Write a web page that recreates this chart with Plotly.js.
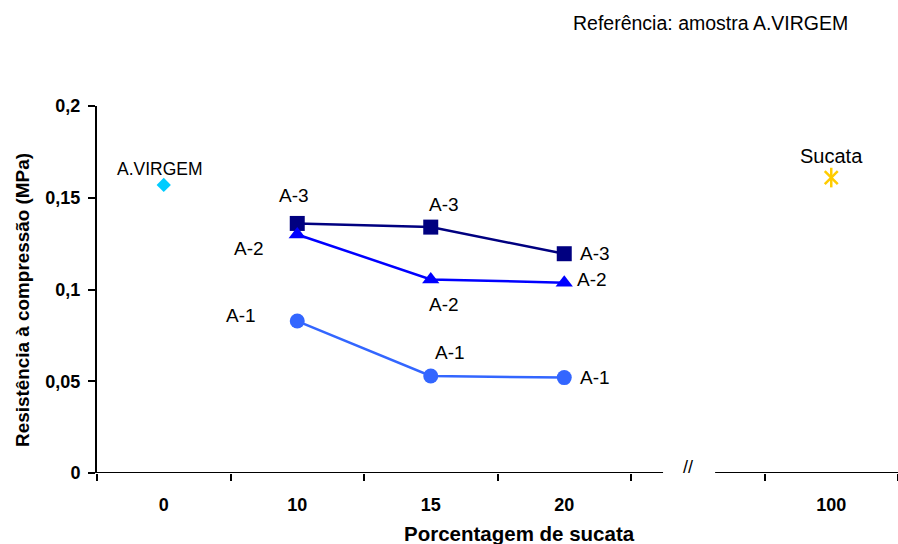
<!DOCTYPE html>
<html><head><meta charset="utf-8">
<script src="https://cdn.plot.ly/plotly-3.0.1.min.js"></script>
<style>html,body{margin:0;padding:0;background:#fff}</style>
</head><body><div id="chart" style="width:898px;height:544px"></div>
<script>
// Category labels and their slot index on the broken axis (slot 4 = break)
const xLabels = ['0', '10', '15', '20', '100'];
const xSlots = [0, 1, 2, 3, 5];

// Series (slot index -> value)
const virgemX = [0];
const virgemY = [0.157];
const a3X = [1, 2, 3];
const a3Y = [0.136, 0.134, 0.1195];
const a2X = [1, 2, 3];
const a2Y = [0.130, 0.1055, 0.1037];
const a1X = [1, 2, 3];
const a1Y = [0.0828, 0.0529, 0.0520];
const sucataX = [5];
const sucataY = [0.161];

const FONT = 'Liberation Sans, Arial, sans-serif';
const PL = 97, PR = 898, PT = 106, PB = 473;
const px = v => (v - PL) / (PR - PL);
const py = v => (PB - v) / (PB - PT);

const traces = [
  {x: virgemX, y: virgemY, mode: 'markers', marker: {symbol: 'diamond', size: 11, color: '#00CCFF'}, cliponaxis: false},
  {x: a3X, y: a3Y, mode: 'lines+markers', line: {color: '#000080', width: 2.5}, marker: {symbol: 'square', size: 15, color: '#000080'}, cliponaxis: false},
  {x: a2X, y: a2Y, mode: 'lines+markers', line: {color: '#0000FF', width: 2.5}, marker: {symbol: 'triangle-up', size: 15, color: '#0000FF'}, cliponaxis: false},
  {x: a1X, y: a1Y, mode: 'lines+markers', line: {color: '#3366FF', width: 2.5}, marker: {symbol: 'circle', size: 15, color: '#3366FF'}, cliponaxis: false},
  {x: sucataX, y: sucataY, mode: 'markers', marker: {symbol: 'x-thin-open', size: 13, color: '#FFCC00', line: {color: '#FFCC00', width: 2.5}}, cliponaxis: false},
  {x: sucataX, y: sucataY, mode: 'markers', marker: {symbol: 'line-ns-open', size: 14, color: '#FFCC00', line: {color: '#FFCC00', width: 2.5}}, cliponaxis: false}
];

function lab(x, y, text, dx, dy, size) {
  return {x: x, y: y, xref: 'x', yref: 'y', text: text, showarrow: false,
    xanchor: 'center', yanchor: 'middle',
    xshift: dx, yshift: dy, font: {family: FONT, size: size || 19, color: '#000'}};
}

const annotations = [
  lab(virgemX[0], virgemY[0], 'A.VIRGEM', -4, 16, 17.5),
  lab(a3X[0], a3Y[0], 'A-3', -3, 28),
  lab(a3X[1], a3Y[1], 'A-3', 13, 23),
  lab(a3X[2], a3Y[2], 'A-3', 31, 0),
  lab(a2X[0], a2Y[0], 'A-2', -48, -14),
  lab(a2X[1], a2Y[1], 'A-2', 13, -25),
  lab(a2X[2], a2Y[2], 'A-2', 28, 3),
  lab(a1X[0], a1Y[0], 'A-1', -56, 6),
  lab(a1X[1], a1Y[1], 'A-1', 19, 23),
  lab(a1X[2], a1Y[2], 'A-1', 31, 0),
  lab(sucataX[0], sucataY[0], 'Sucata', 0, 22, 20),
  {x: 4, y: 0, xref: 'x', yref: 'y', text: '//', showarrow: false, xshift: -10, yshift: 6,
    xanchor: 'center', yanchor: 'middle', font: {family: FONT, size: 18, color: '#000'}},
  {x: px(710), y: py(22.5), xref: 'paper', yref: 'paper',
    xanchor: 'center', yanchor: 'middle', text: 'Referência: amostra A.VIRGEM', showarrow: false,
    font: {family: FONT, size: 19.5, color: '#000'}},
  {x: px(519), y: py(533), xref: 'paper', yref: 'paper',
    xanchor: 'center', yanchor: 'middle', text: 'Porcentagem de sucata', showarrow: false,
    font: {family: FONT, size: 20.5, color: '#000', weight: 'bold'}},
  {x: px(22), y: py(300), xref: 'paper', yref: 'paper', textangle: -90,
    xanchor: 'center', yanchor: 'middle', text: 'Resistência à compressão (MPa)', showarrow: false,
    font: {family: FONT, size: 18.9, color: '#000', weight: 'bold'}}
];

const layout = {
  width: 898, height: 544,
  margin: {l: PL, r: 898 - PR, t: PT, b: 544 - PB, pad: 0},
  paper_bgcolor: '#fff', plot_bgcolor: '#fff',
  showlegend: false,
  font: {family: FONT, color: '#000'},
  xaxis: {
    range: [-0.5, 5.5], tickvals: xSlots, ticktext: xLabels,
    showgrid: false, zeroline: false, showline: false, ticks: '',
    tickfont: {family: FONT, size: 18, color: '#000', weight: 'bold'},
    ticklabelstandoff: 19,
    minor: {tickvals: [-0.5, 0.5, 1.5, 2.5, 3.5, 4.5, 5.5], ticks: 'outside', ticklen: 7, tickwidth: 2, tickcolor: '#000', showgrid: false}
  },
  yaxis: {
    range: [0, 0.2], tickvals: [0, 0.05, 0.1, 0.15, 0.2], ticktext: ['0', '0,05', '0,1', '0,15', '0,2'],
    showgrid: false, zeroline: false, showline: true, linecolor: '#000', linewidth: 2,
    ticks: 'outside', ticklen: 7, tickwidth: 2, tickcolor: '#000',
    tickfont: {family: FONT, size: 18, color: '#000', weight: 'bold'},
    ticklabelstandoff: 4
  },
  shapes: [
    {type: 'line', xref: 'x', yref: 'y', x0: -0.5, x1: 3.74, y0: 0, y1: 0, line: {color: '#000', width: 2}},
    {type: 'line', xref: 'x', yref: 'y', x0: 4.13, x1: 5.5, y0: 0, y1: 0, line: {color: '#000', width: 2}}
  ],
  annotations: annotations
};

Plotly.newPlot('chart', traces, layout, {displayModeBar: false, staticPlot: true});
</script></body></html>
